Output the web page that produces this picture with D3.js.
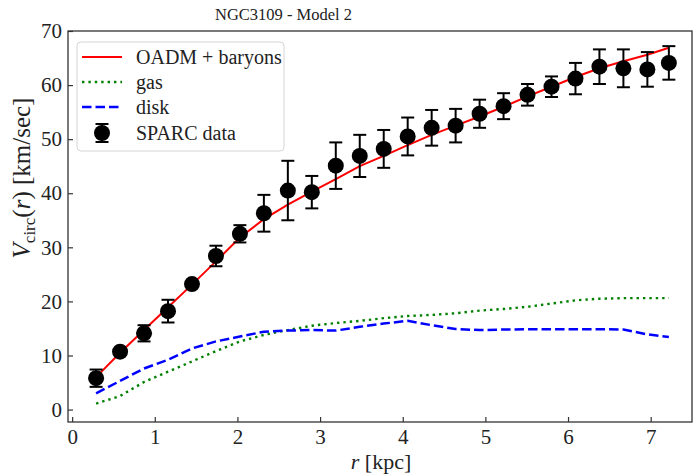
<!DOCTYPE html>
<html>
<head>
<meta charset="utf-8">
<script src="https://cdn.jsdelivr.net/npm/d3@7"></script>
<style>
  html, body { margin: 0; padding: 0; background: #fff; }
  svg { display: block; }
  text { font-family: "Liberation Serif", "DejaVu Serif", serif; fill: #222; }
</style>
</head>
<body>
<svg id="chart" width="693" height="476"></svg>
<script>
// ---- data ----
const rKpc   = [0.29, 0.58, 0.87, 1.16, 1.45, 1.74, 2.03, 2.32, 2.61, 2.90, 3.19, 3.48, 3.77,
                4.06, 4.35, 4.64, 4.93, 5.22, 5.51, 5.80, 6.09, 6.38, 6.67, 6.96, 7.22];
const vObs   = [5.8, 10.7, 14.1, 18.2, 23.2, 28.4, 32.5, 36.3, 40.5, 40.2, 45.1, 46.9, 48.2,
                50.5, 52.1, 52.5, 54.7, 56.1, 58.2, 59.7, 61.2, 63.4, 63.1, 62.9, 64.1];
const vErr   = [1.6, 0.5, 1.5, 2.1, 0.6, 1.9, 1.6, 3.4, 5.5, 3.0, 4.3, 3.9, 3.5,
                3.5, 3.3, 3.1, 2.6, 2.4, 2.0, 1.9, 2.9, 3.2, 3.5, 3.2, 3.1];
const vModel = [6.0, 10.5, 14.7, 18.9, 23.1, 27.4, 31.8, 35.2, 37.9, 40.3, 42.6, 45.0, 46.9,
                48.9, 50.8, 52.5, 54.2, 56.0, 57.9, 59.7, 61.5, 63.1, 64.4, 65.6, 66.9];
const vGas   = [1.1, 2.5, 5.1, 7.0, 8.9, 10.8, 12.6, 13.8, 14.7, 15.5, 16.0, 16.4, 16.9,
                17.3, 17.5, 17.8, 18.3, 18.6, 19.0, 19.6, 20.2, 20.5, 20.6, 20.6, 20.6];
const vDisk  = [3.0, 5.3, 7.6, 9.2, 11.3, 12.6, 13.5, 14.4, 14.6, 14.7, 14.6, 15.3, 15.9,
                16.4, 15.6, 14.9, 14.7, 14.8, 14.85, 14.85, 14.85, 14.85, 14.8, 13.9, 13.4];
const xTicks = [0, 1, 2, 3, 4, 5, 6, 7];
const yTicks = [0, 10, 20, 30, 40, 50, 60, 70];
const legendLabels = ["OADM + baryons", "gas", "disk", "SPARC data"];
const titleText = "NGC3109 - Model 2";

// ---- layout ----
const svg = d3.select("#chart");
const L = 68, R = 692, T = 31, B = 422;
const x = d3.scaleLinear().domain([-0.05, 7.5]).range([L, R]);
const y = d3.scaleLinear().domain([-2.3, 70]).range([B, T]);

const pts = rKpc.map((r, i) => ({r, v: vObs[i], e: vErr[i], m: vModel[i], g: vGas[i], d: vDisk[i]}));

// axes
const xAxis = d3.axisBottom(x).tickValues(xTicks).tickFormat(d3.format("d"))
  .tickSizeInner(-5).tickSizeOuter(0).tickPadding(7);
const yAxis = d3.axisLeft(y).tickValues(yTicks).tickFormat(d3.format("d"))
  .tickSizeInner(-5).tickSizeOuter(0).tickPadding(6);

const gx = svg.append("g").attr("transform", `translate(0,${B})`).call(xAxis);
const gy = svg.append("g").attr("transform", `translate(${L},0)`).call(yAxis);
[gx, gy].forEach(g => {
  g.attr("font-family", null);
  g.select(".domain").remove();
  g.selectAll(".tick line").attr("stroke", "#333").attr("stroke-width", 1.2);
  g.selectAll(".tick text").attr("font-size", 21).attr("fill", "#222")
    .attr("font-family", "Liberation Serif, DejaVu Serif, serif");
});

// lines
const lineOf = key => d3.line().x(d => x(d.r)).y(d => y(d[key]));
const plot = svg.append("g");
plot.append("path").datum(pts).attr("d", lineOf("g"))
  .attr("fill", "none").attr("stroke", "#008000").attr("stroke-width", 2.4)
  .attr("stroke-dasharray", "2.4,4");
plot.append("path").datum(pts).attr("d", lineOf("d"))
  .attr("fill", "none").attr("stroke", "#0000ff").attr("stroke-width", 2.5)
  .attr("stroke-dasharray", "9.5,4");
plot.append("path").datum(pts).attr("d", lineOf("m"))
  .attr("fill", "none").attr("stroke", "#ff0000").attr("stroke-width", 2);

// error bars + markers
const eb = plot.selectAll("g.eb").data(pts).join("g").attr("class", "eb");
const cap = 6.5;
eb.append("line").attr("x1", d => x(d.r)).attr("x2", d => x(d.r))
  .attr("y1", d => y(d.v - d.e)).attr("y2", d => y(d.v + d.e))
  .attr("stroke", "#000").attr("stroke-width", 2);
eb.filter(d => d.e >= 1).append("line").attr("x1", d => x(d.r) - cap).attr("x2", d => x(d.r) + cap)
  .attr("y1", d => y(d.v - d.e)).attr("y2", d => y(d.v - d.e))
  .attr("stroke", "#000").attr("stroke-width", 2);
eb.filter(d => d.e >= 1).append("line").attr("x1", d => x(d.r) - cap).attr("x2", d => x(d.r) + cap)
  .attr("y1", d => y(d.v + d.e)).attr("y2", d => y(d.v + d.e))
  .attr("stroke", "#000").attr("stroke-width", 2);
eb.append("circle").attr("cx", d => x(d.r)).attr("cy", d => y(d.v)).attr("r", 8).attr("fill", "#000");

// frame
svg.append("rect").attr("x", L).attr("y", T).attr("width", R - L).attr("height", B - T)
  .attr("fill", "none").attr("stroke", "#333").attr("stroke-width", 1.3);

// legend
const lg = svg.append("g");
lg.append("rect").attr("x", 77).attr("y", 42).attr("width", 207).attr("height", 109)
  .attr("rx", 4).attr("fill", "#fff").attr("fill-opacity", 0.85)
  .attr("stroke", "#d5d5d5").attr("stroke-width", 1);
const rowY = [57, 82, 107, 133];
const sx0 = 82, sx1 = 122, tx = 136;
lg.append("line").attr("x1", sx0).attr("x2", sx1).attr("y1", rowY[0]).attr("y2", rowY[0])
  .attr("stroke", "#ff0000").attr("stroke-width", 2);
lg.append("line").attr("x1", sx0).attr("x2", sx1).attr("y1", rowY[1]).attr("y2", rowY[1])
  .attr("stroke", "#008000").attr("stroke-width", 2.4).attr("stroke-dasharray", "2.4,4");
lg.append("line").attr("x1", sx0).attr("x2", sx1).attr("y1", rowY[2]).attr("y2", rowY[2])
  .attr("stroke", "#0000ff").attr("stroke-width", 2.5).attr("stroke-dasharray", "9.5,4");
const mx = (sx0 + sx1) / 2;
lg.append("line").attr("x1", mx).attr("x2", mx).attr("y1", rowY[3] - 9).attr("y2", rowY[3] + 9)
  .attr("stroke", "#000").attr("stroke-width", 2);
[-9, 9].forEach(o => lg.append("line").attr("x1", mx - cap).attr("x2", mx + cap)
  .attr("y1", rowY[3] + o).attr("y2", rowY[3] + o).attr("stroke", "#000").attr("stroke-width", 2));
lg.append("circle").attr("cx", mx).attr("cy", rowY[3]).attr("r", 8).attr("fill", "#000");
legendLabels.forEach((t, i) => {
  lg.append("text").attr("x", tx).attr("y", rowY[i]).attr("dy", "0.35em")
    .attr("font-size", 20).text(t);
});

// title
svg.append("text").attr("x", 283.5).attr("y", 20).attr("text-anchor", "middle")
  .attr("font-size", 16.5).text(titleText);

// x label
const xl = svg.append("text").attr("x", 381).attr("y", 469).attr("text-anchor", "middle")
  .attr("font-size", 22);
xl.append("tspan").attr("font-style", "italic").text("r");
xl.append("tspan").text(" [kpc]");

// y label
const yl = svg.append("text").attr("transform", "translate(30,178) rotate(-90)")
  .attr("text-anchor", "middle").attr("font-size", 25);
yl.append("tspan").attr("font-style", "italic").text("V");
yl.append("tspan").attr("font-size", 17).attr("dy", 5).text("circ");
yl.append("tspan").attr("dy", -5).text("(");
yl.append("tspan").attr("font-style", "italic").text("r");
yl.append("tspan").text(") [km/sec]");
</script>
</body>
</html>
